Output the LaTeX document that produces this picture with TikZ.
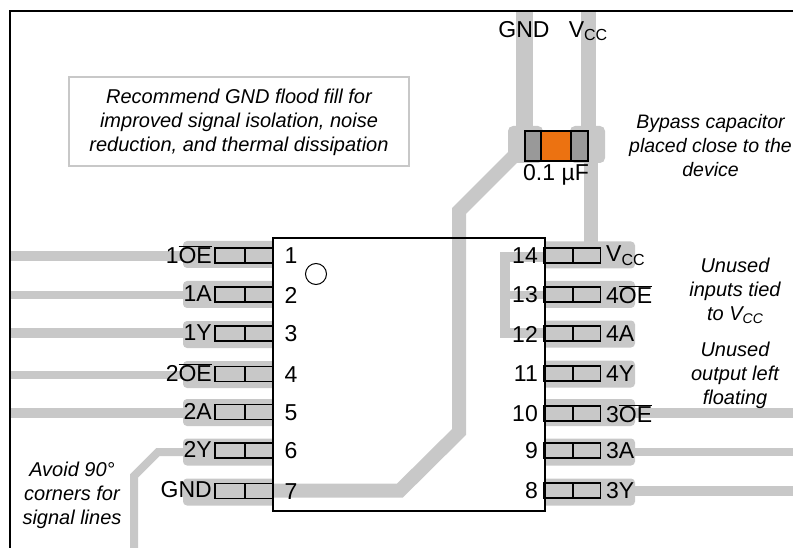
\documentclass[tikz,border=0pt]{standalone}
\usepackage{fontspec}
\setmainfont{Liberation Sans}
\definecolor{tracegray}{RGB}{200,200,200}
\definecolor{capgray}{RGB}{153,153,153}
\definecolor{caporange}{RGB}{236,114,17}
\newcommand{\oebar}{$\overline{\mbox{OE}}$}
\newcommand{\vcc}{V\raisebox{-0.3ex}{\fontsize{16}{16}\selectfont CC}}
\newcommand{\vccnote}{V\raisebox{-0.3ex}{\fontsize{14}{14}\selectfont CC}}
\tikzset{
  trace/.style={draw=tracegray,line width=#1},
  trace/.default=10,
  padback/.style={fill=tracegray},
  padbox/.style={draw=black,line width=1.3},
  pinlabel/.style={font=\fontsize{23}{23}\selectfont,inner sep=0},
  notetext/.style={font=\fontsize{20}{24}\selectfont\itshape,align=center,inner sep=0}
}

\begin{document}
\begin{tikzpicture}[x=1pt,y=-1pt]
  \useasboundingbox (0,0) rectangle (793,548);

  % traces to the edges
  \draw [trace=10] (10,256) -- (183,256);
  \draw [trace=8] (10,295) -- (183,295);
  \draw [trace=10] (10,333) -- (183,333);
  \draw [trace=8] (10,375) -- (183,375);
  \draw [trace=10] (10,413) -- (183,413);
  \draw [trace=8] (183,452) -- (158,452) -- (134,476) -- (134,548);
  \draw [trace=10] (635,413) -- (793,413);
  \draw [trace=8] (635,452) -- (793,452);
  \draw [trace=10] (635,491) -- (793,491);

  % power
  \draw [trace=14] (273,490.5) -- (400,490.5) -- (459,432) -- (459,211) -- (518,152);
  \draw [trace=17] (524,11) -- (524,130);
  \draw [trace=15] (588.5,11) -- (588.5,130);
  \draw [trace=14] (590.5,160) -- (590.5,243);
  \draw [trace=10] (545,257) -- (505,257) -- (505,333) -- (545,333);
  \draw [trace=8] (500,295) -- (545,295);
  \fill [padback,rounded corners=5] (508,126) rectangle (543,163);
  \fill [padback,rounded corners=5] (570,126) rectangle (605,163);

  % left pads
  \foreach \n/\y/\g/\t in {1/255.5/254.5/1\oebar, 2/294.5/294.5/1A, 3/333.5/334.5/1Y,
      4/374/374.5/2\oebar, 5/412/412.5/2A, 6/450.5/452/2Y, 7/491/492/GND} {
    \fill [padback,rounded corners=4] (273,\g-13.5) -- (183,\g-13.5) -- (183,\g+13.5) [sharp corners] -- (273,\g+13.5) -- cycle;
    \draw [padbox] (215,\y-7.5) rectangle (273,\y+7.5);
    \draw [padbox] (245,\y-7.5) -- (245,\y+7.5);
    \node (pin\n) [pinlabel] at (291,\y+0.5) {\n};
    \node (sig\n) [pinlabel,anchor=east] at (212,\y-1) {\t};
  }

  % right pads
  \foreach \n/\y/\g/\t in {14/255.5/255/\vcc, 13/294.5/294.5/4\oebar, 12/333.5/334/4A,
      11/373.5/374/4Y, 10/413.5/412.5/3\oebar, 9/450.5/452/3A, 8/490.5/492/3Y} {
    \fill [padback,rounded corners=4] (545,\g-13.5) -- (635,\g-13.5) -- (635,\g+13.5) [sharp corners] -- (545,\g+13.5) -- cycle;
    \draw [padbox] (543.5,\y-7.5) rectangle (600.5,\y+7.5);
    \draw [padbox] (573,\y-7.5) -- (573,\y+7.5);
    \node (pin\n) [pinlabel,anchor=east] at (538,\y+0.5) {\n};
    \node (sig\n) [pinlabel,anchor=west] at (606,\y) {\t};
  }

  % device and frame
  \draw [line width=2] (273,238) rectangle (545,511);
  \draw [line width=1] (316,274) circle (10.5);
  \draw [line width=2.5] (793,11) -- (10,11) -- (10,548);

  % capacitor
  \draw [padbox,fill=capgray] (525,131) rectangle (541,161);
  \draw [padbox,fill=capgray] (571,131) rectangle (588,161);
  \draw [padbox,fill=caporange] (541,131) rectangle (571,161);
  \node (capvalue) [pinlabel] at (556,175) {0.1 µF};
  \node (gnd) [pinlabel] at (524,30) {GND};
  \node (vcc) [pinlabel] at (588,31) {\vcc};

  % notes
  \node (floodbox) [draw=tracegray,line width=2,minimum width=340,minimum height=89,inner sep=0] at (238.5,121.5) {};
  \node (floodnote) [notetext] at (239,122) {Recommend GND flood fill for\\improved signal isolation, noise\\reduction, and thermal dissipation};
  \node (capnote) [notetext,font=\fontsize{19.5}{24}\selectfont\itshape] at (710.5,146) {Bypass capacitor\\placed close to the\\device};
  \node (tienote) [notetext] at (735,291) {Unused\\inputs tied\\to \vccnote};
  \node (floatnote) [notetext] at (735,375) {Unused\\output left\\floating};
  \node (cornernote) [notetext] at (72,495) {Avoid 90°\\corners for\\signal lines};
\end{tikzpicture}
\end{document}
